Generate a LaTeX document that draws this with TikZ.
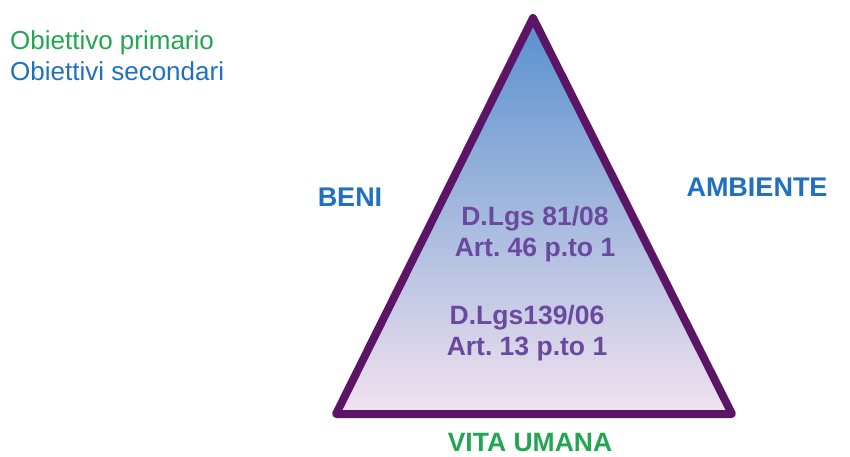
\documentclass[tikz,border=0pt]{standalone}
\usepackage{fontspec}
\setmainfont{Liberation Sans}
\usepackage{tikz}
\usetikzlibrary{positioning}
\definecolor{triedge}{HTML}{5C1566}
\definecolor{topblue}{HTML}{5890CE}
\definecolor{midblue}{HTML}{A2C2E8}
\definecolor{lowpink}{HTML}{F2E2EF}
\definecolor{lawpurple}{HTML}{6A4A9E}
\definecolor{goalgreen}{HTML}{22A650}
\definecolor{goalblue}{HTML}{1F70C1}
\frenchspacing

\begin{document}
\begin{tikzpicture}[x=1pt, y=-1pt,
  lawtext/.style={text=lawpurple, font=\bfseries\fontsize{26.5}{31}\selectfont, align=center},
  sidetext/.style={text=goalblue, font=\bfseries\fontsize{27}{31}\selectfont},
  legendtext/.style={font=\fontsize{26}{30}\selectfont, anchor=west, inner sep=0pt}]
  \useasboundingbox (0,0) rectangle (850,457);
  \coordinate (apex) at (533,18);
  \coordinate (bl) at (336,414);
  \coordinate (br) at (732,414);
  \shade[top color=topblue, middle color=midblue, bottom color=lowpink] (apex) -- (bl) -- (br) -- cycle;
  \draw[triedge, line width=8pt, line join=round] (apex) -- (bl) -- (br) -- cycle;

  \node[legendtext, text=goalgreen] (primary) at (10,43) {Obiettivo primario};
  \node[legendtext, text=goalblue] (secondary) at (10,71) {Obiettivi secondari};

  \node[sidetext] (beni) at (350,197) {BENI};
  \node[sidetext] (ambiente) at (757,187) {AMBIENTE};

  \node[lawtext] (law81) at (535,234) {D.Lgs 81/08\\Art. 46 p.to 1};
  \node[lawtext] (law139) at (527,333) {D.Lgs139/06\\Art. 13 p.to 1};

  \node[text=goalgreen, font=\bfseries\fontsize{26.5}{31}\selectfont] (vita) at (530,443) {VITA UMANA};
\end{tikzpicture}
\end{document}
